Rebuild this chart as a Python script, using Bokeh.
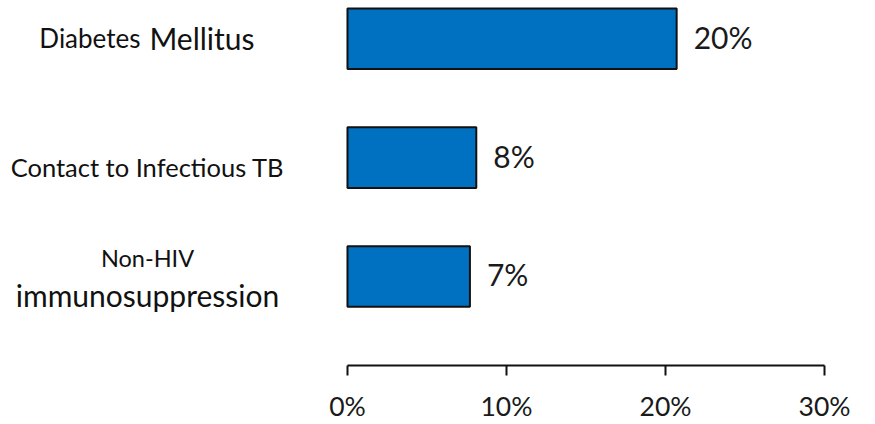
from bokeh.plotting import figure
from bokeh.models import Range1d, FixedTicker, ColumnDataSource
from bokeh.core.properties import value
from bokeh.embed import file_html
from bokeh.resources import INLINE

# data
categories = ["Diabetes Mellitus", "Contact to Infectious TB", "Non-HIV immunosuppression"]
values = [20.7, 8.1, 7.7]
value_labels = ["20%", "8%", "7%"]
tick_values = [0, 10, 20, 30]
tick_labels = ["0%", "10%", "20%", "30%"]

FONT = "Lato"
positions = [len(categories) - 1 - i for i in range(len(categories))]

src = ColumnDataSource(dict(cat=categories, y=positions, v=values, lab=value_labels))

p = figure(width=870, height=424, output_backend="svg", toolbar_location=None,
           x_range=Range1d(-21.82, 32.89), y_range=Range1d(-0.749, 2.322),
           y_axis_location=None, min_border_left=0, min_border_right=0,
           min_border_top=0, min_border_bottom=57)
p.outline_line_color = None
p.xgrid.visible = False
p.ygrid.visible = False
p.background_fill_color = "white"
p.border_fill_color = "white"

p.hbar(y="y", left=0, right="v", height=0.51, source=src,
       fill_color="#0070C0", line_color="#111111", line_width=2)

p.text(x="v", y="y", text="lab", source=src, x_offset=17, y_offset=-2,
       text_align="left", text_baseline="middle",
       text_font=value(FONT), text_font_size="30px", text_color="#1a1a1a")

# category labels (mixed font sizes as in the original)
d, c, n = positions
p.text(x=[0], y=[d], text=["Diabetes"], x_offset=-207, y_offset=-1,
       text_align="right", text_baseline="alphabetic",
       text_font=value(FONT), text_font_size="26px", text_color="#111111")
p.text(x=[0], y=[d], text=["Mellitus"], x_offset=-198, y_offset=-1,
       text_align="left", text_baseline="alphabetic",
       text_font=value(FONT), text_font_size="30px", text_color="#111111")
p.text(x=[0], y=[c], text=["Contact to Infectious TB"], x_offset=-200, y_offset=9.5,
       text_align="center", text_baseline="alphabetic",
       text_font=value(FONT), text_font_size="25.5px", text_color="#111111")
p.text(x=[0], y=[n], text=["Non-HIV"], x_offset=-200, y_offset=-18,
       text_align="center", text_baseline="alphabetic",
       text_font=value(FONT), text_font_size="23.5px", text_color="#111111")
p.text(x=[0], y=[n], text=["immunosuppression"], x_offset=-200, y_offset=19,
       text_align="center", text_baseline="alphabetic",
       text_font=value(FONT), text_font_size="30px", text_color="#111111")

ax = p.xaxis[0]
ax.bounds = (tick_values[0], tick_values[-1])
ax.ticker = FixedTicker(ticks=tick_values, minor_ticks=[])
ax.major_label_overrides = {t: l for t, l in zip(tick_values, tick_labels)}
ax.axis_line_width = 2
ax.axis_line_color = "#111111"
ax.major_tick_line_width = 2
ax.major_tick_line_color = "#111111"
ax.major_tick_in = 0
ax.major_tick_out = 10
ax.minor_tick_line_color = None
ax.major_label_standoff = 14
ax.major_label_text_font = FONT
ax.major_label_text_font_size = "26.5px"
ax.major_label_text_color = "#1a1a1a"

open("out.html", "w").write(file_html(p, INLINE))
